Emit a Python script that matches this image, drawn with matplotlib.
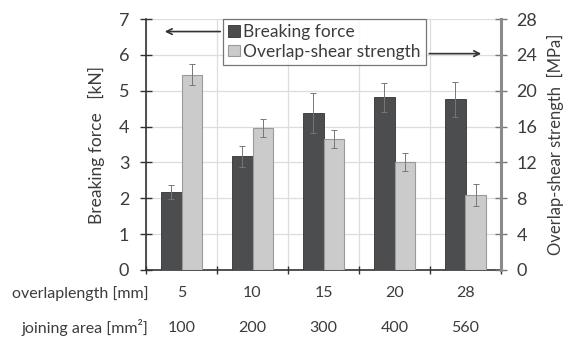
import matplotlib

matplotlib.use("Agg")
import matplotlib.pyplot as plt
import numpy as np

overlap_mm = ["5", "10", "15", "20", "28"]
area_mm2 = ["100", "200", "300", "400", "560"]
force_kn = [2.18, 3.17, 4.38, 4.82, 4.76]
force_err = [0.2, 0.3, 0.55, 0.4, 0.48]
shear_mpa = [21.8, 15.85, 14.6, 12.0, 8.35]
shear_err = [1.15, 1.05, 1.0, 1.0, 1.2]

DARK = "#4b4d4f"
LIGHT = "#cbcbcb"
TXT = "#3c3c3c"
FONT = "Lato"

plt.rcParams["font.family"] = [FONT, "DejaVu Sans"]

fig = plt.figure(figsize=(5.67, 3.37), dpi=100)
ax = fig.add_axes([146 / 567, (337 - 270) / 337, (501 - 146) / 567, (270 - 19) / 337])
ax2 = ax.twinx()

x = np.arange(len(overlap_mm))
w = 0.29
ax.bar(x - w / 2, force_kn, w, color=DARK, edgecolor="#333333", linewidth=0.6,
       yerr=force_err, error_kw=dict(ecolor="#777777", elinewidth=0.7, capsize=2.5, capthick=0.7),
       zorder=3, label="Breaking force")
ax2.bar(x + w / 2, shear_mpa, w, color=LIGHT, edgecolor="#9a9a9a", linewidth=0.8,
        yerr=shear_err, error_kw=dict(ecolor="#777777", elinewidth=0.7, capsize=2.5, capthick=0.7),
        zorder=3, label="Overlap-shear strength")

ax.set_xlim(-0.5, 4.5)
ax.set_ylim(0, 7)
ax2.set_ylim(0, 28)
ax.set_yticks(range(0, 8))
ax2.set_yticks(range(0, 29, 4))

# grid
ax.set_axisbelow(True)
ax.set_xticks(np.arange(-0.5, 4.6, 1.0))
ax.set_xticklabels([])
ax.grid(True, axis="both", color="#dddddd", linewidth=0.9, zorder=0)
ax.tick_params(axis="x", direction="inout", length=6, color="#333333", width=1)
ax.tick_params(axis="y", direction="inout", length=8, color="#333333", width=1,
               labelsize=13, labelcolor=TXT, pad=8)
ax2.tick_params(axis="y", direction="inout", length=8, color="#777777", width=1,
                labelsize=13, labelcolor=TXT, pad=7)

for a in (ax, ax2):
    a.spines["top"].set_visible(False)
ax2.spines["left"].set_visible(False)
ax2.spines["bottom"].set_visible(False)
ax.spines["right"].set_visible(False)
ax.spines["left"].set_color("#333333")
ax.spines["left"].set_linewidth(1.2)
ax.spines["bottom"].set_color("#333333")
ax.spines["bottom"].set_linewidth(1.2)
ax2.spines["right"].set_color("#8a8a8a")
ax2.spines["right"].set_linewidth(2.2)

ax.set_ylabel("Breaking force   [kN]", fontsize=12.5, color=TXT, labelpad=10)
ax2.set_ylabel("Overlap-shear strength  [MPa]", fontsize=12, color=TXT, labelpad=7)

# bottom table rows
for yy, name, vals in [(-0.093, "overlaplength [mm]", overlap_mm),
                       (-0.23, "joining area [mm²]", area_mm2)]:
    ax.text(-0.47, yy, name, transform=ax.get_xaxis_transform(), ha="right", va="center",
            fontsize=11.5, color=TXT)
    for xi, v in zip(x, vals):
        ax.text(xi, yy, v, transform=ax.get_xaxis_transform(), ha="center", va="center",
                fontsize=11.5, color=TXT)

# legend
h1, l1 = ax.get_legend_handles_labels()
h2, l2 = ax2.get_legend_handles_labels()
leg = ax2.legend(h1 + h2, l1 + l2, loc="upper left", bbox_to_anchor=(0.217, 1.0),
                 fontsize=12.5, frameon=True, fancybox=False, edgecolor="#555555",
                 handlelength=0.65, handleheight=0.65, handletextpad=0.2,
                 borderpad=0.3, labelspacing=0.2, borderaxespad=0)
leg.get_frame().set_linewidth(0.9)
for t in leg.get_texts():
    t.set_color(TXT)

# arrows pointing to the matching axes
ax.annotate("", xy=(0.045, 0.95), xycoords="axes fraction", xytext=(0.217, 0.95),
            arrowprops=dict(arrowstyle="->", color="#333333", lw=1.2))
ax.annotate("", xy=(0.952, 0.862), xycoords="axes fraction", xytext=(0.79, 0.862),
            arrowprops=dict(arrowstyle="->", color="#333333", lw=1.2))

fig.savefig("out.png", dpi=100)
